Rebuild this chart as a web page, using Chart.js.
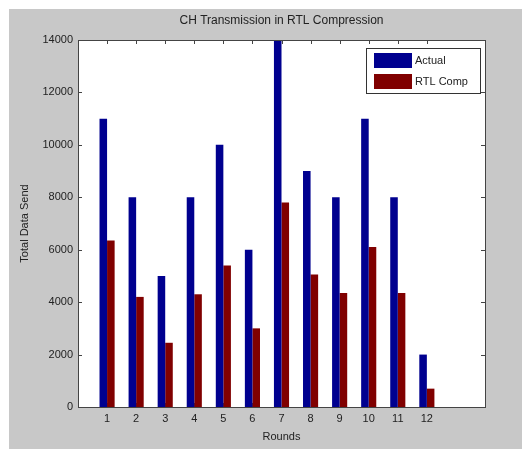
<!DOCTYPE html>
<html>
<head>
<meta charset="utf-8">
<title>CH Transmission in RTL Compression</title>
<script src="https://cdn.jsdelivr.net/npm/chart.js@4.4.0/dist/chart.umd.min.js"></script>
<style>
    html, body { margin: 0; padding: 0; background: #ffffff; }
    canvas { display: block; }
</style>
</head>
<body>
<canvas id="barChart" width="522" height="449"></canvas>
<script>
// Chart data
const rounds = [1, 2, 3, 4, 5, 6, 7, 8, 9, 10, 11, 12];
const actualData = [11000, 8000, 5000, 8000, 10000, 6000, 14000, 9000, 8000, 11000, 8000, 2000];
const rtlCompData = [6350, 4200, 2450, 4300, 5400, 3000, 7800, 5050, 4350, 6100, 4350, 700];
const yTicks = [0, 2000, 4000, 6000, 8000, 10000, 12000, 14000];

const textColor = '#222222';
const fontFamily = '"Liberation Sans", Arial, Helvetica, sans-serif';

// Draws the grey figure background, the axes box, inward ticks and the legend
const matlabFrame = {
    id: 'matlabFrame',
    beforeDraw: function(chart) {
        const ctx = chart.ctx;
        const area = chart.chartArea;
        ctx.save();
        ctx.fillStyle = '#c8c8c8';
        ctx.fillRect(9, 9, chart.width - 9, chart.height - 9);
        ctx.fillStyle = '#ffffff';
        ctx.fillRect(area.left, area.top, area.right - area.left, area.bottom - area.top);
        ctx.restore();
    },
    beforeDatasetsDraw: function(chart) {
        const ctx = chart.ctx;
        const area = chart.chartArea;
        const xScale = chart.scales.x;
        const yScale = chart.scales.y;
        const len = 4;
        ctx.save();
        ctx.strokeStyle = '#444444';
        ctx.lineWidth = 1;
        ctx.beginPath();
        yScale.ticks.forEach(function(t) {
            const y = Math.round(yScale.getPixelForValue(t.value)) + 0.5;
            ctx.moveTo(area.left, y);
            ctx.lineTo(area.left + len, y);
            ctx.moveTo(area.right, y);
            ctx.lineTo(area.right - len, y);
        });
        xScale.ticks.forEach(function(t) {
            const x = Math.round(xScale.getPixelForValue(t.value)) + 0.5;
            ctx.moveTo(x, area.top);
            ctx.lineTo(x, area.top + len);
            ctx.moveTo(x, area.bottom);
            ctx.lineTo(x, area.bottom - len);
        });
        ctx.stroke();
        ctx.restore();
    },
    afterDatasetsDraw: function(chart) {
        const ctx = chart.ctx;
        const area = chart.chartArea;
        ctx.save();
        ctx.strokeStyle = '#444444';
        ctx.lineWidth = 1;
        ctx.strokeRect(Math.round(area.left) + 0.5, Math.round(area.top) + 0.5,
            Math.round(area.right - area.left), Math.round(area.bottom - area.top));

        // Legend box
        const lx = 366, ly = 48, lw = 114, lh = 45;
        ctx.fillStyle = '#ffffff';
        ctx.fillRect(lx, ly, lw, lh);
        ctx.strokeStyle = '#333333';
        ctx.strokeRect(lx + 0.5, ly + 0.5, lw, lh);
        ctx.font = '11px ' + fontFamily;
        ctx.textBaseline = 'middle';
        ctx.textAlign = 'left';
        chart.data.datasets.forEach(function(ds, i) {
            const rowY = ly + 5 + i * 21;
            ctx.fillStyle = ds.backgroundColor;
            ctx.fillRect(lx + 8, rowY, 38, 15);
            ctx.fillStyle = textColor;
            ctx.fillText(ds.label, lx + 49, rowY + 8);
        });
        ctx.restore();
    }
};

document.addEventListener('DOMContentLoaded', function() {
    const ctx = document.getElementById('barChart');
    new Chart(ctx, {
        type: 'bar',
        data: {
            datasets: [{
                label: 'Actual',
                data: rounds.map((r, i) => ({ x: r, y: actualData[i] })),
                backgroundColor: '#00008f',
                borderWidth: 0
            }, {
                label: 'RTL Comp',
                data: rounds.map((r, i) => ({ x: r, y: rtlCompData[i] })),
                backgroundColor: '#800000',
                borderWidth: 0
            }]
        },
        options: {
            responsive: false,
            animation: false,
            devicePixelRatio: 1,
            categoryPercentage: 0.52,
            barPercentage: 1.0,
            layout: {
                padding: { left: 0, top: 0, right: 37, bottom: 0 }
            },
            plugins: {
                legend: { display: false },
                tooltip: { enabled: false },
                title: {
                    display: true,
                    fullSize: false,
                    text: 'CH Transmission in RTL Compression',
                    color: textColor,
                    font: { family: fontFamily, size: 12, weight: 'normal' },
                    padding: { top: 13, bottom: 12.6 }
                }
            },
            scales: {
                x: {
                    type: 'linear',
                    min: 0,
                    max: 14,
                    offset: false,
                    grid: { display: false, drawTicks: false, offset: false },
                    border: { display: false },
                    afterBuildTicks: function(scale) {
                        scale.ticks = rounds.map(r => ({ value: r }));
                    },
                    afterFit: function(scale) {
                        scale.height = 42;
                    },
                    ticks: {
                        autoSkip: false,
                        maxRotation: 0,
                        padding: 5,
                        color: textColor,
                        font: { family: fontFamily, size: 11 }
                    },
                    title: {
                        display: true,
                        text: 'Rounds',
                        color: textColor,
                        font: { family: fontFamily, size: 11 },
                        padding: { top: 0, bottom: 5 }
                    }
                },
                y: {
                    min: 0,
                    max: 14000,
                    grid: { display: false, drawTicks: false },
                    border: { display: false },
                    afterBuildTicks: function(scale) {
                        scale.ticks = yTicks.map(v => ({ value: v }));
                    },
                    afterFit: function(scale) {
                        scale.width = 78;
                    },
                    ticks: {
                        padding: 5,
                        color: textColor,
                        font: { family: fontFamily, size: 11 },
                        callback: function(value) {
                            return value;
                        }
                    },
                    title: {
                        display: true,
                        text: 'Total Data Send',
                        color: textColor,
                        font: { family: fontFamily, size: 11 },
                        padding: { top: 18, bottom: 0 }
                    }
                }
            }
        },
        plugins: [matlabFrame]
    });
});
</script>
</body>
</html>
